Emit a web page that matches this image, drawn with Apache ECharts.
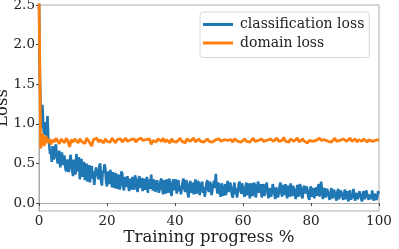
<!DOCTYPE html>
<html><head><meta charset="utf-8">
<script src="https://cdn.jsdelivr.net/npm/echarts@6/dist/echarts.min.js"></script>
<style>html,body{margin:0;padding:0;background:#fff}#c{width:399px;height:249px}</style>
</head><body><div id="c"></div>
<script>
const seriesNames = ['classification loss', 'domain loss'];
const classificationStep = 0.25; // x spacing of logged points (% of training)
const domainStep = 0.5;
const classificationLoss = [
2.6,1.6,1.15,0.95,1.24,0.98,0.86,0.92,1.02,0.84,1.10,0.80,0.74,0.62,0.66,0.52,0.72,0.55,0.58,0.70,
0.74,0.58,0.50,0.62,0.66,0.45,0.56,0.64,0.48,0.57,0.60,0.44,0.40,0.52,0.55,0.39,0.46,0.61,0.59,0.42,
0.34,0.55,0.48,0.36,0.62,0.51,0.40,0.58,0.30,0.47,0.56,0.33,0.44,0.52,0.29,0.41,0.50,0.27,0.36,0.48,
0.26,0.42,0.47,0.31,0.40,0.23,0.25,0.45,0.44,0.36,0.30,0.47,0.50,0.28,0.22,0.41,0.38,0.49,0.44,0.26,
0.21,0.40,0.35,0.24,0.42,0.29,0.20,0.39,0.30,0.19,0.38,0.27,0.18,0.36,0.33,0.17,0.25,0.40,0.37,0.21,
0.16,0.33,0.30,0.20,0.34,0.24,0.15,0.31,0.27,0.17,0.33,0.22,0.17,0.35,0.30,0.21,0.14,0.29,0.34,0.19,
0.24,0.32,0.15,0.27,0.31,0.17,0.20,0.33,0.13,0.26,0.30,0.18,0.36,0.22,0.16,0.30,0.26,0.14,0.12,0.29,
0.29,0.13,0.18,0.28,0.31,0.19,0.11,0.29,0.24,0.12,0.30,0.17,0.13,0.31,0.27,0.14,0.09,0.24,0.30,0.16,
0.17,0.30,0.12,0.23,0.29,0.15,0.22,0.11,0.10,0.27,0.31,0.18,0.14,0.29,0.26,0.12,0.07,0.22,0.28,0.13,
0.18,0.26,0.11,0.22,0.30,0.12,0.15,0.28,0.25,0.10,0.09,0.24,0.27,0.13,0.20,0.08,0.10,0.25,0.29,0.17,
0.14,0.27,0.24,0.10,0.11,0.23,0.28,0.19,0.37,0.20,0.12,0.26,0.22,0.11,0.08,0.25,0.27,0.09,0.17,0.24,
0.10,0.21,0.28,0.14,0.13,0.26,0.25,0.10,0.07,0.20,0.26,0.11,0.19,0.07,0.09,0.24,0.27,0.16,0.12,0.25,
0.23,0.11,0.08,0.21,0.26,0.10,0.16,0.25,0.06,0.19,0.25,0.09,0.12,0.26,0.22,0.07,0.09,0.23,0.27,0.13,
0.15,0.24,0.07,0.18,0.24,0.09,0.11,0.22,0.26,0.12,0.06,0.19,0.21,0.08,0.14,0.24,0.25,0.11,0.05,0.20,
0.22,0.07,0.12,0.21,0.26,0.14,0.08,0.23,0.20,0.10,0.24,0.13,0.06,0.22,0.18,0.08,0.25,0.12,0.09,0.22,
0.21,0.11,0.05,0.17,0.23,0.08,0.12,0.24,0.20,0.09,0.06,0.18,0.22,0.12,0.10,0.21,0.19,0.07,0.04,0.17,
0.21,0.08,0.12,0.19,0.06,0.15,0.20,0.09,0.18,0.24,0.08,0.21,0.27,0.14,0.05,0.16,0.19,0.07,0.11,0.18,
0.17,0.08,0.04,0.13,0.19,0.06,0.09,0.17,0.16,0.07,0.03,0.14,0.18,0.05,0.10,0.16,0.15,0.08,0.04,0.13,
0.17,0.05,0.08,0.15,0.02,0.12,0.16,0.04,0.11,0.06,0.18,0.09,0.03,0.13,0.14,0.05,0.07,0.15,0.17,0.06,
0.02,0.12,0.15,0.05,0.09,0.16,0.18,0.07,0.04,0.11,0.13,0.05,0.16,0.08,0.03,0.12,0.14,0.04,0.08,0.15,
0.12
];
const domainLoss = [
2.6,0.69,0.88,0.72,0.85,0.76,0.81,0.74,0.80,0.77,
0.82,0.78,0.75,0.81,0.79,0.76,0.82,0.78,0.71,0.80,
0.77,0.81,0.79,0.76,0.81,0.78,0.80,0.75,0.82,0.79,
0.77,0.72,0.80,0.78,0.82,0.77,0.80,0.79,0.76,0.81,
0.78,0.80,0.77,0.82,0.79,0.76,0.80,0.78,0.81,0.77,
0.79,0.82,0.78,0.76,0.80,0.79,0.81,0.77,0.80,0.78,
0.82,0.79,0.77,0.80,0.78,0.81,0.74,0.79,0.80,0.77,
0.81,0.79,0.78,0.82,0.77,0.80,0.79,0.76,0.81,0.78,
0.80,0.77,0.79,0.82,0.78,0.80,0.76,0.81,0.79,0.78,
0.80,0.82,0.77,0.79,0.81,0.78,0.80,0.77,0.79,0.81,
0.78,0.80,0.77,0.75,0.80,0.79,0.81,0.78,0.77,0.80,
0.82,0.79,0.78,0.80,0.77,0.81,0.79,0.78,0.80,0.77,
0.79,0.81,0.78,0.80,0.77,0.79,0.82,0.78,0.80,0.79,
0.77,0.81,0.78,0.80,0.79,0.77,0.81,0.79,0.78,0.80,
0.82,0.78,0.80,0.79,0.83,0.78,0.80,0.77,0.81,0.79,
0.78,0.80,0.82,0.77,0.79,0.81,0.78,0.80,0.76,0.79,
0.81,0.78,0.80,0.79,0.77,0.82,0.79,0.78,0.80,0.81,
0.78,0.80,0.77,0.79,0.82,0.78,0.80,0.79,0.77,0.81,
0.79,0.78,0.80,0.82,0.78,0.79,0.81,0.77,0.80,0.79,
0.78,0.81,0.79,0.77,0.80,0.82,0.78,0.80,0.79,0.78,
0.80
];
const xTicks = [0, 20, 40, 60, 80, 100];
const yTicks = [0, 0.5, 1.0, 1.5, 2.0, 2.5];
const xAxisName = 'Training progress %';
const yAxisName = 'Loss';

const toPairs = (arr, step) => arr.map((v, i) => [i * step, v]);
const font = '"DejaVu Serif", serif';
const chart = echarts.init(document.getElementById('c'), null, {renderer: 'canvas'});
chart.setOption({
  animation: false,
  backgroundColor: '#fff',
  grid: {left: 39, right: 20, top: 5, bottom: 38, containLabel: false, outerBoundsMode: 'none',
         show: true, borderColor: '#aaaaaa', borderWidth: 1},
  legend: {
    orient: 'vertical', left: 200, top: 12,
    icon: 'rect', itemWidth: 30, itemHeight: 3, itemGap: 3.5,
    padding: [5, 5, 7, 3],
    borderColor: '#d8d8d8', borderWidth: 1, borderRadius: 3,
    backgroundColor: 'rgba(255,255,255,0.8)',
    textStyle: {fontFamily: font, fontSize: 14, lineHeight: 15, color: '#222', padding: [0, 0, 0, 2]},
    data: seriesNames
  },
  xAxis: {
    type: 'value', min: xTicks[0], max: xTicks[xTicks.length - 1], interval: 20,
    name: xAxisName, nameLocation: 'middle', nameGap: 18, nameMoveOverlap: false,
    nameTextStyle: {fontFamily: font, fontSize: 16.5, color: '#222'},
    axisLine: {lineStyle: {color: '#aaaaaa', width: 1}},
    axisTick: {show: true, length: 3, lineStyle: {color: '#444'}, customValues: xTicks},
    axisLabel: {fontFamily: font, fontSize: 13.5, color: '#222', margin: 3, customValues: xTicks},
    splitLine: {show: false}
  },
  yAxis: {
    type: 'value', min: -0.1, max: 2.5,
    name: yAxisName, nameLocation: 'middle', nameGap: 28, nameMoveOverlap: false,
    nameTextStyle: {fontFamily: font, fontSize: 16.5, color: '#222'},
    axisLine: {show: true, lineStyle: {color: '#aaaaaa', width: 1}},
    axisTick: {show: true, length: 3, lineStyle: {color: '#444'}, customValues: yTicks},
    axisLabel: {fontFamily: font, fontSize: 13.5, color: '#222', margin: 4, customValues: yTicks,
      formatter: v => Number(v).toFixed(1)},
    splitLine: {show: false}
  },
  series: [
    {name: seriesNames[0], type: 'line', symbol: 'none', data: toPairs(classificationLoss, classificationStep),
     lineStyle: {color: '#1f77b4', width: 2.6}, itemStyle: {color: '#1f77b4'}, clip: true},
    {name: seriesNames[1], type: 'line', symbol: 'none', data: toPairs(domainLoss, domainStep),
     lineStyle: {color: '#ff7f0e', width: 2.8}, itemStyle: {color: '#ff7f0e'}, clip: true}
  ]
});
</script></body></html>
